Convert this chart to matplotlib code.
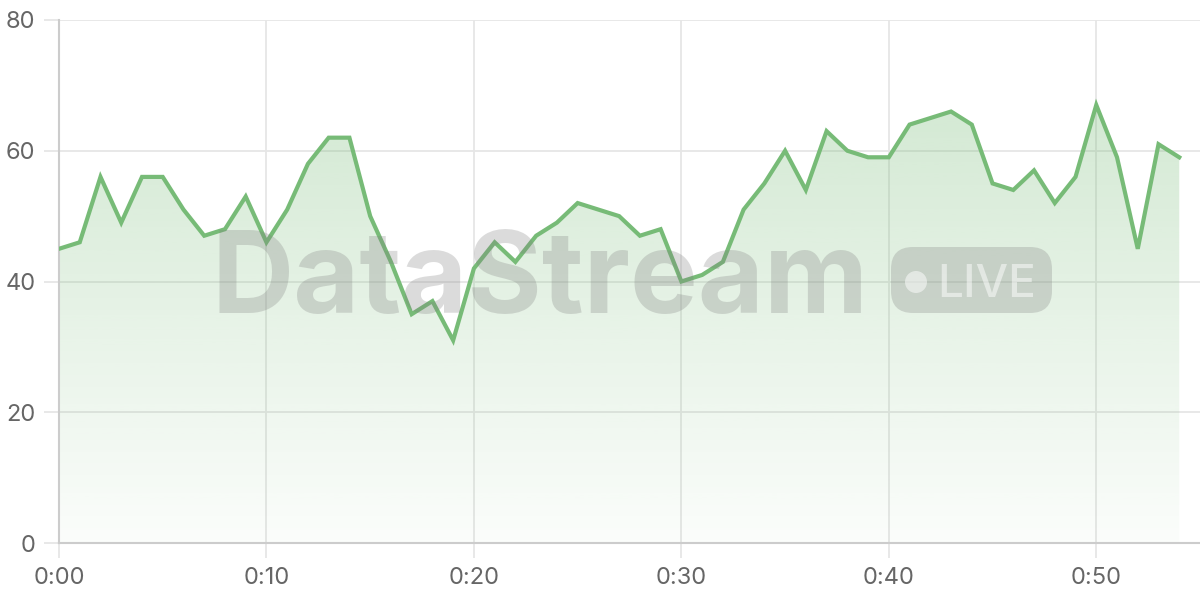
import numpy as np
import matplotlib
matplotlib.use("Agg")
import matplotlib.pyplot as plt
from matplotlib.patches import FancyBboxPatch, Polygon, Circle

minutes = list(range(0, 55))
values = [45, 46, 56, 49, 56, 56, 51, 47, 48, 53,
          46, 51, 58, 62, 62, 50, 43, 35, 37, 31,
          42, 46, 43, 47, 49, 52, 51, 50, 47, 48,
          40, 41, 43, 51, 55, 60, 54, 63, 60, 59,
          59, 64, 65, 66, 64, 55, 54, 57, 52, 56,
          67, 59, 45, 61, 59]
x_ticks = [0, 10, 20, 30, 40, 50]
x_labels = ["0:00", "0:10", "0:20", "0:30", "0:40", "0:50"]
y_ticks = [0, 20, 40, 60, 80]

line_color = "#77bb77"
plt.rcParams["font.family"] = ["Inter", "DejaVu Sans"]

fig = plt.figure(figsize=(12, 6), dpi=100)
ax = fig.add_axes([59 / 1200, 57 / 600, 1141 / 1200, 523 / 600])
ax.set_xlim(0, 55)
ax.set_ylim(0, 80)

# gradient fill under the line
ymax = max(values)
grad = np.linspace(0.03, 0.32, 256).reshape(-1, 1)
rgba = np.zeros((256, 1, 4))
rgba[..., 0] = 0x77 / 255
rgba[..., 1] = 0xbb / 255
rgba[..., 2] = 0x77 / 255
rgba[..., 3] = grad
img = ax.imshow(rgba, extent=[minutes[0], minutes[-1], 0, ymax], origin="lower",
                aspect="auto", zorder=1)
poly = Polygon(list(zip(minutes, values)) + [(minutes[-1], 0), (minutes[0], 0)],
               closed=True, facecolor="none", edgecolor="none")
ax.add_patch(poly)
img.set_clip_path(poly)

ax.plot(minutes, values, color=line_color, lw=3, zorder=4, solid_joinstyle="miter")

# watermark
fig.text(540 / 1200, 1 - 313 / 600, "DataStream", fontsize=82,
         fontweight="bold", color="#808080", alpha=0.28, ha="center", va="baseline", zorder=3)
badge = FancyBboxPatch((891, 287), 161, 66, boxstyle="round,pad=0,rounding_size=22",
                       transform=None, facecolor="#808080", alpha=0.28,
                       edgecolor="none", zorder=3)
fig.patches.append(badge)
dot = Circle((916, 600 - 282), 11, transform=None, facecolor="white", alpha=0.5,
             edgecolor="none", zorder=5)
fig.patches.append(dot)
fig.text(937 / 1200, 1 - 297 / 600, "LIVE", fontsize=33, fontweight="medium",
         color="white", alpha=0.5, ha="left", va="baseline", zorder=5)

ax.set_xticks(x_ticks)
ax.set_xticklabels(x_labels)
ax.set_yticks(y_ticks)
ax.grid(True, color="#e6e6e6", lw=1.3, zorder=0)
ax.set_axisbelow(True)
for s in ["top", "right"]:
    ax.spines[s].set_visible(False)
for s in ["left", "bottom"]:
    ax.spines[s].set_color("#cccccc")
    ax.spines[s].set_linewidth(1.5)
ax.tick_params(length=11, width=1.3, color="#e6e6e6", labelcolor="#666666",
               labelsize=17, pad=6)

fig.savefig("out.png", dpi=100)
